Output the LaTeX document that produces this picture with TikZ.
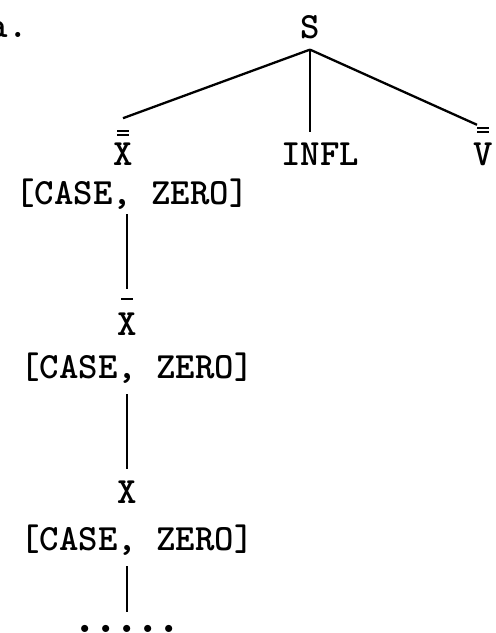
\documentclass[tikz,border=0pt]{standalone}
\usepackage{fontspec}
\usepackage{tikz}

% typewriter labels and bars over category letters
\newcommand\tw{\fontsize{37}{44}\selectfont\ttfamily\bfseries}
\newcommand\onebar{\rule{12pt}{2.2pt}}
\newcommand\twobar{\vbox{\hbox{\onebar}\kern2pt\hbox{\onebar}}}
\newcommand\barred[3]{\vbox{\offinterlineskip\halign{\hfil##\hfil\cr#1\cr\noalign{\kern#2}#3\cr}}}
\newcommand\dotrow{\fontsize{52}{60}\selectfont.\kern-6.3pt.\kern-6.3pt.\kern-6.3pt.\kern-6.3pt.}

\begin{document}
\begin{tikzpicture}[
  x=1pt, y=1pt,
  every node/.style={font=\tw, inner sep=0pt, anchor=base},
  br/.style={line width=2.3pt},
]
\useasboundingbox (0,0) rectangle (496,-633);

\node[anchor=base west] (lbl) at (-11.6,-37) {a.};
\node (s)     at (310,-38)   {S};
\node (xdd)   at (123,-165)  {\barred{\twobar}{6pt}{X}};
\node (infl)  at (320,-165)  {INFL};
\node (vdd)   at (483,-165)  {\barred{\twobar}{9pt}{V}};
\node (case1) at (132,-204)  {[CASE, ZERO]};
\node (xb)    at (127,-335)  {\barred{\onebar}{12pt}{X}};
\node (case2) at (137,-378)  {[CASE, ZERO]};
\node (xp)    at (127,-503)  {X};
\node (case3) at (137,-550)  {[CASE, ZERO]};
\node (dots)  at (127,-632)  {\dotrow};

\draw[br] ([yshift=-11pt]s.south) -- ([yshift=11.6pt]xdd.north);
\draw[br, shorten >=10pt] ([yshift=-11pt]s.south) -- (s.south |- infl.north);
\draw[br] ([yshift=-11pt]s.south) -- ([xshift=-6pt,yshift=2pt]vdd.north);

\draw[br, shorten <=5pt, shorten >=8.6pt] (xb.north |- case1.south) -- (xb.north);
\draw[br, shorten <=11pt, shorten >=11pt] (xp.north |- case2.south) -- (xp.north);
\draw[br, shorten <=11pt, shorten >=13pt] (dots.north |- case3.south) -- (dots.north);
\end{tikzpicture}
\end{document}
